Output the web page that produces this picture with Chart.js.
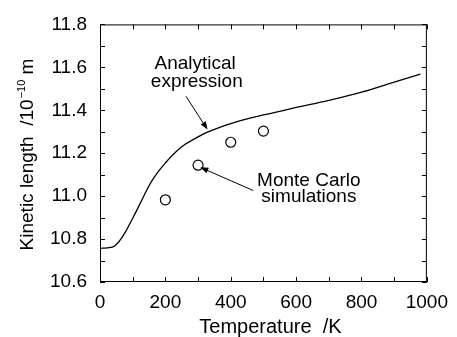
<!DOCTYPE html>
<html><head><meta charset="utf-8">
<script src="https://cdn.jsdelivr.net/npm/chart.js@4/dist/chart.umd.min.js"></script>
<style>html,body{margin:0;padding:0;background:#fff}#wrap{width:457px;height:337px}</style>
</head><body><div id="wrap"><canvas id="c" width="457" height="337"></canvas></div>
<script>
// Analytical expression curve
const curveT = [0,20,45,70,100,130,160,200,250,300,330,400,500,600,700,800,900,980];
const curveL = [10.757,10.759,10.768,10.814,10.897,10.988,11.075,11.155,11.230,11.276,11.299,11.338,11.378,11.413,11.446,11.484,11.531,11.568];
// Monte Carlo simulations
const mcT = [200,300,400,500];
const mcL = [10.983,11.144,11.251,11.303];
const xTicks = [0,200,400,600,800,1000];
const yTicks = [10.6,10.8,11.0,11.2,11.4,11.6,11.8];
const xTitle = 'Temperature  /K';
const yTitle = ['Kinetic length  /10','\u221210',' m'];
// annotations (data coordinates)
const notes = [
  {text:'Analytical', x:291, y:11.59},
  {text:'expression', x:296, y:11.51},
  {text:'Monte Carlo', x:639, y:11.045},
  {text:'simulations', x:639, y:10.975}
];
const arrows = [
  {from:[263,11.465], to:[329,11.31]},
  {from:[469,11.026], to:[307,11.134]}
];

const FONT = '"Liberation Sans", Arial, Helvetica, sans-serif';

const decor = {
  id:'decor',
  afterDraw(chart){
    const ctx = chart.ctx, a = chart.chartArea;
    const xs = chart.scales.x, ys = chart.scales.y;
    ctx.save();
    ctx.strokeStyle='#000'; ctx.lineWidth=1;
    ctx.strokeRect(a.left+0.5, a.top+0.5, a.right-a.left-1, a.bottom-a.top-1);
    const L=5;
    ctx.beginPath();
    for(let v=0; v<=1000; v+=100){
      const px=Math.round(xs.getPixelForValue(v))+0.5;
      ctx.moveTo(px,a.bottom); ctx.lineTo(px,a.bottom-L);
      ctx.moveTo(px,a.top); ctx.lineTo(px,a.top+L);
    }
    for(let i=0;i<=12;i++){
      const v=10.6+i*0.1;
      const py=Math.round(ys.getPixelForValue(v))+0.5;
      ctx.moveTo(a.left,py); ctx.lineTo(a.left+L,py);
      ctx.moveTo(a.right,py); ctx.lineTo(a.right-L,py);
    }
    ctx.stroke();
    // annotations
    ctx.fillStyle='#000';
    ctx.font='19px '+FONT;
    ctx.textAlign='center'; ctx.textBaseline='alphabetic';
    notes.forEach(n=>ctx.fillText(n.text, xs.getPixelForValue(n.x), ys.getPixelForValue(n.y)));
    arrows.forEach(ar=>{
      const x1=xs.getPixelForValue(ar.from[0]), y1=ys.getPixelForValue(ar.from[1]);
      const x2=xs.getPixelForValue(ar.to[0]), y2=ys.getPixelForValue(ar.to[1]);
      const ang=Math.atan2(y2-y1,x2-x1);
      ctx.lineWidth=1;
      ctx.beginPath(); ctx.moveTo(x1,y1);
      ctx.lineTo(x2-6*Math.cos(ang), y2-6*Math.sin(ang)); ctx.stroke();
      ctx.beginPath();
      ctx.moveTo(x2,y2);
      ctx.lineTo(x2-8*Math.cos(ang)+3*Math.sin(ang), y2-8*Math.sin(ang)-3*Math.cos(ang));
      ctx.lineTo(x2-8*Math.cos(ang)-3*Math.sin(ang), y2-8*Math.sin(ang)+3*Math.cos(ang));
      ctx.closePath(); ctx.fill();
    });
    // x title
    ctx.font='20px '+FONT;
    ctx.fillText(xTitle, (a.left+a.right)/2+7, 333);
    // y title with superscript
    ctx.translate(33, 155);
    ctx.rotate(-Math.PI/2);
    const big='19px '+FONT, supFont='11px '+FONT;
    ctx.font=big; const w1=ctx.measureText(yTitle[0]).width, w3=ctx.measureText(yTitle[2]).width;
    ctx.font=supFont; const w2=ctx.measureText(yTitle[1]).width;
    let x=-(w1+w2+w3)/2;
    ctx.textAlign='left';
    ctx.font=big; ctx.fillText(yTitle[0], x, 0); x+=w1;
    ctx.font=supFont; ctx.fillText(yTitle[1], x+1, -8); x+=w2+1;
    ctx.font=big; ctx.fillText(yTitle[2], x, 0);
    ctx.restore();
  }
};

new Chart(document.getElementById('c'), {
  type:'scatter',
  data:{datasets:[
    {label:'Analytical expression', data:curveT.map((t,i)=>({x:t,y:curveL[i]})), showLine:true,
     borderColor:'#000', borderWidth:1.3, pointRadius:0, tension:0.4, fill:false},
    {label:'Monte Carlo simulations', data:mcT.map((t,i)=>({x:t,y:mcL[i]})), showLine:false,
     pointRadius:5, pointBorderWidth:1.2, pointBorderColor:'#000', pointBackgroundColor:'#fff'}
  ]},
  options:{
    responsive:false, animation:false, events:[],
    layout:{padding:{left:0,right:23,top:18,bottom:0}},
    plugins:{legend:{display:false}, tooltip:{enabled:false}},
    scales:{
      x:{type:'linear', min:0, max:1000,
         afterFit(s){s.height=55;},
         afterBuildTicks(s){s.ticks=xTicks.map(v=>({value:v}));},
         grid:{display:false, drawTicks:false}, border:{display:false},
         ticks:{color:'#000', font:{size:19, family:FONT}, padding:9, maxRotation:0, callback:v=>String(v)}},
      y:{type:'linear', min:10.6, max:11.8,
         afterFit(s){s.width=100;},
         afterBuildTicks(s){s.ticks=yTicks.map(v=>({value:v}));},
         grid:{display:false, drawTicks:false}, border:{display:false},
         ticks:{color:'#000', font:{size:19, family:FONT}, padding:13, callback:v=>v.toFixed(1)}}
    }
  },
  plugins:[decor]
});
</script></body></html>
